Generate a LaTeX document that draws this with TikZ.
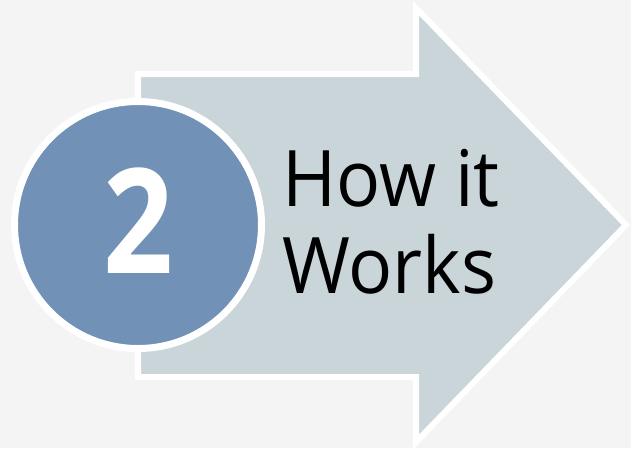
\documentclass[tikz,border=0pt]{standalone}
\usepackage{fontspec}
\setmainfont{Open Sans}
\usepackage{xcolor}
\usetikzlibrary{positioning}
\definecolor{bgcol}{HTML}{F4F4F4}
\definecolor{arrowcol}{HTML}{C9D5D9}
\definecolor{circcol}{HTML}{7191B6}

\begin{document}
\begin{tikzpicture}[x=1pt,y=-1pt,
  badge/.style={circle,fill=circcol,draw=white,line width=7pt,minimum size=247pt,inner sep=0pt,
    text=white,font=\fontsize{146}{146}\selectfont\bfseries\addfontfeature{FakeStretch=0.84}},
  label/.style={anchor=base west,inner sep=0pt,font=\fontsize{78}{78}\selectfont\addfontfeature{FakeStretch=0.94}}]
  \useasboundingbox[fill=bgcol] (0,0) rectangle (631,448);
  % arrow
  \draw[white,line width=6pt,line join=miter,fill=arrowcol]
    (138,74) -- (416,74) -- (416,8) -- (626,225) -- (416,442) -- (416,377) -- (138,377) -- cycle;
  \node[badge] (num) at (138,225) {\raisebox{8pt}{2}};
  \node[label] (how) at (282,206) {How it};
  \node[label] (works) at (282,293) {Works};
\end{tikzpicture}
\end{document}
